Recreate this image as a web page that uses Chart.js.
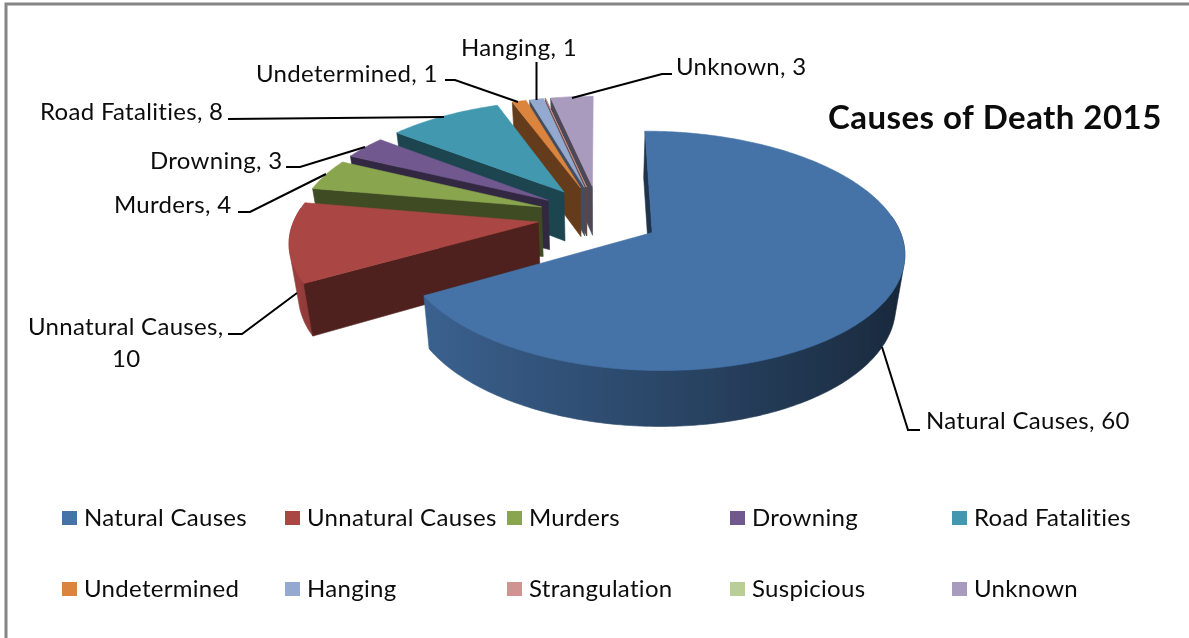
<!DOCTYPE html>
<html><head><meta charset="utf-8">
<style>html,body{margin:0;padding:0;background:#fff;overflow:hidden}canvas{display:block}</style>
<script src="https://cdn.jsdelivr.net/npm/chart.js@4"></script>
</head><body><canvas id="c" width="1189" height="638"></canvas>
<script>
const categories = ["Natural Causes","Unnatural Causes","Murders","Drowning","Road Fatalities","Undetermined","Hanging","Strangulation","Suspicious","Unknown"];
const deaths = [60,10,4,3,8,1,1,0,0,3];
const colours = ["#4572A7","#AA4643","#89A54E","#71588F","#4198AF","#DB843D","#93A9CF","#D19392","#B9CD96","#A99BBD"];
const chartTitle = "Causes of Death 2015";

const FONT = 'Lato, "Open Sans", sans-serif';
const view = {cx:598.5, cy:216.5, sx:243, sy:112, k:0.15, explodeX:0.25, explodeY:0.28, depth:50, shrink:0.97};
const labelLayout = {
  0:{lines:["Natural Causes, 60"],x:926,y:429,path:[[882,347],[908,430],[920,430]]},
  1:{lines:["Unnatural Causes,","10"],x:28,y:335,alt:112,path:[[228,334],[242,334],[297,293]]},
  2:{lines:["Murders, 4"],x:114,y:213,path:[[238,212],[250,212],[326,174]]},
  3:{lines:["Drowning, 3"],x:150,y:169,path:[[286,167],[300,167],[365,147]]},
  4:{lines:["Road Fatalities, 8"],x:40,y:120,path:[[228,119],[444,117]]},
  5:{lines:["Undetermined, 1"],x:256,y:82,path:[[445,80],[455,80],[518,102]]},
  6:{lines:["Hanging, 1"],x:461,y:56,path:[[536.5,62],[536.5,100]]},
  9:{lines:["Unknown, 3"],x:676,y:75,path:[[572,98],[662,74],[672,74]]}
};
const legendCols = [62,285,507,730,952], legendRows = [518,589];

function rgb(hex,f){const n=parseInt(hex.slice(1),16);return `rgb(${((n>>16)&255)*f|0},${((n>>8)&255)*f|0},${(n&255)*f|0})`;}
function proj(u,f,low){const v=view,w=1/(1-v.k*f),s=low?v.shrink:1;
  return [v.cx+v.sx*u*w*s, v.cy+v.sy*f*w+(low?v.depth*Math.pow(w,0.6):0)];}
function hull(points){
  const p=points.slice().sort((a,b)=>a[0]-b[0]||a[1]-b[1]);
  const cross=(o,a,b)=>(a[0]-o[0])*(b[1]-o[1])-(a[1]-o[1])*(b[0]-o[0]);
  const lo=[],up=[];
  p.forEach(q=>{while(lo.length>1&&cross(lo[lo.length-2],lo[lo.length-1],q)<=0)lo.pop();lo.push(q);});
  p.slice().reverse().forEach(q=>{while(up.length>1&&cross(up[up.length-2],up[up.length-1],q)<=0)up.pop();up.push(q);});
  lo.pop();up.pop();return lo.concat(up);
}

const pie3d = {
  id:'pie3d',
  beforeDatasetsDraw(chart){
    const ctx=chart.ctx, arcs=chart.getDatasetMeta(0).data;
    const slices=arcs.map((a,i)=>{
      const s=a.startAngle+Math.PI/2, e=a.endAngle+Math.PI/2, m=(s+e)/2;
      return {i,s,e,m,ex:view.explodeX*Math.sin(m),ey:-view.explodeY*Math.cos(m)};
    });
    const pt=(sl,r,t,low)=>proj(sl.ex+r*Math.sin(t),sl.ey-r*Math.cos(t),low);
    const poly=(pts,fill)=>{ctx.beginPath();pts.forEach((p,j)=>j?ctx.lineTo(p[0],p[1]):ctx.moveTo(p[0],p[1]));ctx.closePath();
      ctx.fillStyle=fill;ctx.strokeStyle=fill;ctx.lineWidth=0.6;ctx.fill();ctx.stroke();};
    const order=[9,8,7,6,5,4,3,2,1,0];
    order.forEach(i=>{
      const sl=slices[i], col=colours[i], dark=rgb(col,0.46);
      // the rim wall: the hull of the upper and lower rim where the rim faces the viewer
      const n=Math.max(2,Math.ceil((sl.e-sl.s)/(Math.PI/180)));
      const tt=[];
      for(let j=0;j<=n;j++){const t=sl.s+(sl.e-sl.s)*j/n;if(-Math.cos(t)>-0.14&&sl.e>sl.s)tt.push(t);}
      if(tt.length>1){
        const pts=[];
        tt.forEach(t=>{pts.push(pt(sl,1,t,false));pts.push(pt(sl,1,t,true));});
        const xs=tt.map(t=>pt(sl,1,t,false)[0]);
        const x0=Math.min(...xs),x1=Math.max(...xs);
        const g=ctx.createLinearGradient(x0,0,x1,0);
        tt.forEach((t,j)=>{const sh=0.62-0.28*Math.sin(t);g.addColorStop(Math.min(1,Math.max(0,(xs[j]-x0)/((x1-x0)||1))),rgb(col,sh));});
        poly(hull(pts),g);
      }
      // radial walls that face the viewer
      const wall=t=>poly([pt(sl,0,t,false),pt(sl,1,t,false),pt(sl,1,t,true),pt(sl,0,t,true)],dark);
      if(Math.sin(sl.s)<=0.001) wall(sl.s);
      if(Math.sin(sl.e)>0.001) wall(sl.e);
      const top=[pt(sl,0,sl.s,false)];
      const nt=Math.max(1,Math.ceil((sl.e-sl.s)/(Math.PI/180)));
      for(let j=0;j<=nt;j++) top.push(pt(sl,1,sl.s+(sl.e-sl.s)*j/nt,false));
      poly(top,col);
    });
    return false;
  },
  afterDraw(chart){
    const ctx=chart.ctx;
    ctx.save();
    ctx.strokeStyle='#868686';ctx.lineWidth=3;ctx.beginPath();ctx.moveTo(6,638);ctx.lineTo(6,4);ctx.lineTo(1189,4);ctx.stroke();
    ctx.fillStyle='#0c0c0c';ctx.textBaseline='alphabetic';
    ctx.letterSpacing='0.45px';
    ctx.font='bold 33px '+FONT;ctx.fillText(chartTitle,828,129);
    ctx.letterSpacing='0.3px';
    ctx.font='24px '+FONT;
    Object.values(labelLayout).forEach(l=>{
      l.lines.forEach((t,j)=>ctx.fillText(t,j&&l.alt?l.alt:l.x,l.y+j*32));
      ctx.beginPath();l.path.forEach((p,j)=>j?ctx.lineTo(p[0],p[1]):ctx.moveTo(p[0],p[1]));
      ctx.strokeStyle='#000';ctx.lineWidth=2;ctx.stroke();
    });
    chart.data.labels.forEach((t,i)=>{
      const x=legendCols[i%5], y=legendRows[Math.floor(i/5)];
      ctx.fillStyle=colours[i];ctx.fillRect(x,y-7,15,14);
      ctx.fillStyle='#0c0c0c';ctx.fillText(t,x+22,y+8);
    });
    ctx.restore();
  }
};

new Chart(document.getElementById('c'),{
  type:'pie',
  data:{labels:categories,datasets:[{data:deaths,backgroundColor:colours}]},
  options:{responsive:false,animation:false,events:[],
    plugins:{legend:{display:false},tooltip:{enabled:false},title:{display:false}}},
  plugins:[pie3d]
});
</script></body></html>
